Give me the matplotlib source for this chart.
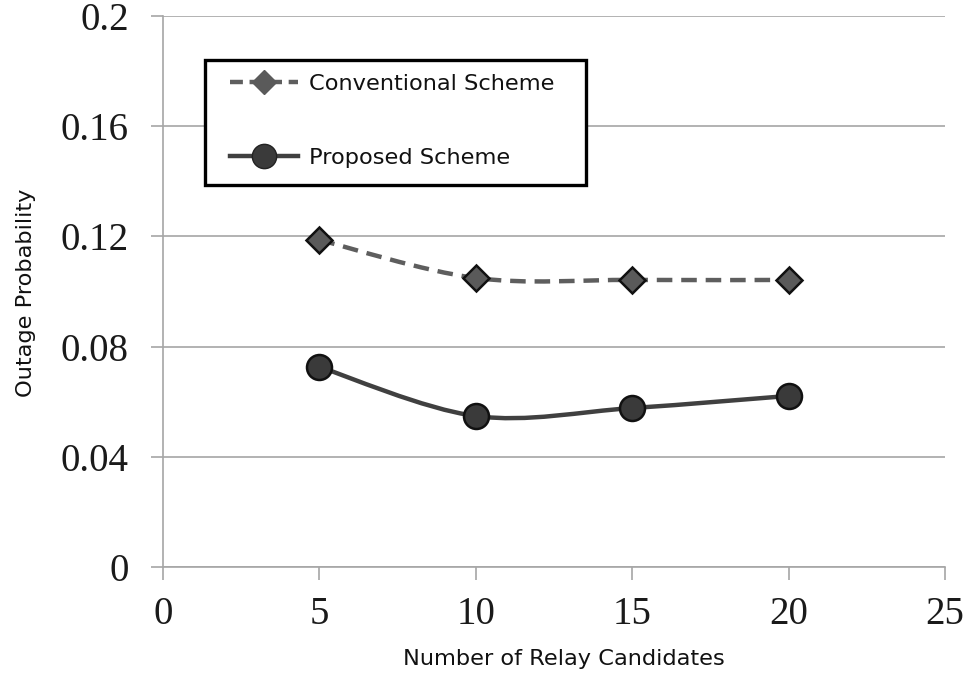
import numpy as np
import matplotlib
matplotlib.use("Agg")
import matplotlib.pyplot as plt
from matplotlib.path import Path
from matplotlib.patches import PathPatch, Rectangle
from matplotlib.lines import Line2D

relays = [5, 10, 15, 20]
conventional = [0.1187, 0.1049, 0.1042, 0.1042]
proposed = [0.0726, 0.0548, 0.0577, 0.0621]
xticks = [0, 5, 10, 15, 20, 25]
yticks = [0, 0.04, 0.08, 0.12, 0.16, 0.2]
ytick_labels = ["0", "0.04", "0.08", "0.12", "0.16", "0.2"]
series_names = ["Conventional Scheme", "Proposed Scheme"]

W, H = 972, 679

def smooth_path(xs, ys):
    pts = np.column_stack([xs, ys]).astype(float)
    n = len(pts)
    verts = [pts[0]]
    codes = [Path.MOVETO]
    for i in range(n - 1):
        p0 = pts[i - 1] if i > 0 else pts[i]
        p1 = pts[i]
        p2 = pts[i + 1]
        p3 = pts[i + 2] if i + 2 < n else pts[i + 1]
        c1 = p1 + (p2 - p0) / 6.0
        c2 = p2 - (p3 - p1) / 6.0
        verts += [c1, c2, p2]
        codes += [Path.CURVE4] * 3
    return Path(verts, codes)

fig = plt.figure(figsize=(W / 100, H / 100), dpi=100)
ax = fig.add_axes([163 / W, 1 - 567 / H, (945 - 163) / W, (567 - 16) / H])

grid_c = "#a6a6a6"
ax.set_xlim(0, 25)
ax.set_ylim(0, 0.2)
ax.set_yticks(yticks)
ax.set_yticklabels(ytick_labels)
ax.set_xticks(xticks)
for s in ["top", "right"]:
    ax.spines[s].set_visible(False)
for s in ["left", "bottom"]:
    ax.spines[s].set_color(grid_c)
    ax.spines[s].set_linewidth(1.2)
ax.yaxis.grid(True, color=grid_c, linewidth=1.2)
ax.set_axisbelow(True)
ax.tick_params(axis="both", colors=grid_c, width=1.2, length=9, labelcolor="#1a1a1a")
ax.tick_params(axis="x", pad=12)
ax.tick_params(axis="y", pad=15.5)
for lab in ax.get_xticklabels() + ax.get_yticklabels():
    lab.set_family("Liberation Serif")
    lab.set_fontsize(28)

conv_c = "#5e5e5e"
prop_c = "#404040"
pc = PathPatch(smooth_path(relays, conventional), facecolor="none", edgecolor=conv_c,
               linewidth=3.2, linestyle=(0, (3.5, 2)), capstyle="butt", zorder=3)
ax.add_patch(pc)
ax.plot(relays, conventional, linestyle="none", marker="D", markersize=13.5,
        markerfacecolor="#5a5a5a", markeredgecolor="#111111", markeredgewidth=1.8, zorder=4)
pp = PathPatch(smooth_path(relays, proposed), facecolor="none", edgecolor=prop_c,
               linewidth=3.2, zorder=3)
ax.add_patch(pp)
ax.plot(relays, proposed, linestyle="none", marker="o", markersize=18,
        markerfacecolor="#3a3a3a", markeredgecolor="#111111", markeredgewidth=1.8, zorder=4)

lab_font = dict(fontsize=16.2, family="DejaVu Sans", color="#111111")
fig.text(564 / W, 1 - 659 / H, "Number of Relay Candidates", ha="center", va="center", **lab_font)
fig.text(26 / W, 1 - 293 / H, "Outage Probability", ha="center", va="center",
         rotation=90, **lab_font)

h1 = Line2D([], [], color=conv_c, linewidth=3.2, linestyle=(0, (2.9, 1.5)), marker="D",
            markersize=12.7, markerfacecolor="#5a5a5a", markeredgecolor="#5a5a5a")
h2 = Line2D([], [], color=prop_c, linewidth=3.2, marker="o", markersize=17.5,
            markerfacecolor="#3a3a3a", markeredgecolor="#222222")
leg = fig.legend([h1, h2], series_names,
                 loc="upper left", bbox_to_anchor=(230 / W, 1 - 74 / H),
                 prop={"size": 16.2, "family": "DejaVu Sans"}, frameon=False,
                 handlelength=3.0, labelspacing=2.4, borderpad=0,
                 handletextpad=0.53, borderaxespad=0)
for t in leg.get_texts():
    t.set_color("#111111")
fig.patches.append(Rectangle((205 / W, 1 - 185 / H), (586 - 205) / W, (185 - 60) / H,
                             transform=fig.transFigure, facecolor="white",
                             edgecolor="black", linewidth=2.4, zorder=0.5))

fig.savefig("out.png", dpi=100)
